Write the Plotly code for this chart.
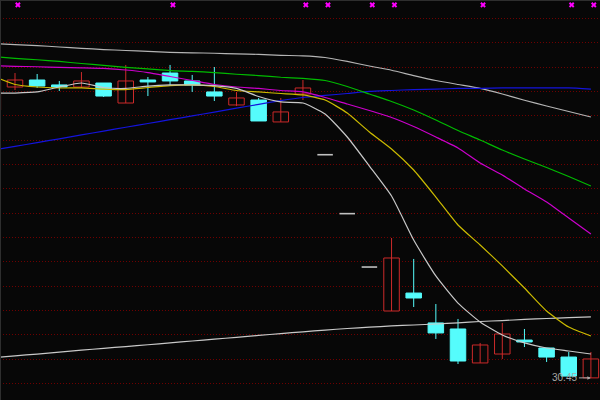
import plotly.graph_objects as go

# ---------------- data (prices) ----------------
idx = list(range(28))

open_ = [52.68, 54.59, 55.17, 54.76, 54.59, 54.92, 53.26, 55.17, 55.75, 55.09,
         54.18, 53.10, 53.51, 51.69, 54.01, 48.97, 44.08, 39.65, 36.00, 37.49,
         35.01, 34.51, 31.69, 32.43, 33.59, 32.93, 32.18, 30.45]
high = [55.17, 55.75, 55.67, 55.09, 55.83, 54.92, 56.42, 55.42, 56.42, 55.59,
        56.25, 54.18, 53.68, 53.68, 55.17, 48.97, 44.08, 39.65, 42.06, 40.32,
        36.58, 35.34, 33.35, 35.01, 34.51, 32.93, 32.60, 32.60]
low = [52.52, 54.34, 54.51, 54.26, 54.51, 53.76, 53.26, 53.84, 54.67, 54.18,
       53.43, 53.01, 51.77, 51.69, 53.51, 48.97, 44.08, 39.65, 36.00, 36.33,
       33.68, 31.60, 31.69, 32.02, 33.01, 31.77, 30.60, 30.45]
close = [55.01, 55.17, 54.67, 54.59, 55.09, 53.84, 55.09, 55.01, 55.09, 54.76,
         53.84, 53.68, 51.77, 52.52, 54.51, 48.97, 44.08, 39.65, 40.40, 37.08,
         34.18, 31.85, 33.18, 34.09, 33.43, 32.18, 30.60, 32.02]

ma_top_gray = [58.20, 58.10, 58.03, 57.91, 57.80, 57.70, 57.62, 57.55, 57.47, 57.43,
               57.39, 57.34, 57.30, 57.22, 57.18, 57.04, 56.71, 56.33, 55.98, 55.54,
               55.13, 54.80, 54.48, 54.01, 53.49, 53.01, 52.56, 52.10]
ma_green = [57.12, 56.97, 56.85, 56.71, 56.54, 56.39, 56.22, 56.09, 55.95, 55.89,
            55.79, 55.65, 55.54, 55.40, 55.30, 55.13, 54.63, 54.01, 53.39, 52.68,
            51.85, 50.98, 50.19, 49.36, 48.61, 47.91, 47.16, 46.37]
ma_magenta = [56.36, 56.31, 56.27, 56.22, 56.18, 56.13, 56.00, 55.79, 55.46, 55.13,
              54.80, 54.59, 54.47, 54.30, 54.18, 53.72, 53.18, 52.64, 52.06, 51.31,
              50.44, 49.53, 48.28, 47.29, 46.13, 45.05, 43.72, 42.39]
ma_yellow = [55.50, 54.80, 54.59, 54.51, 54.51, 54.42, 54.38, 54.55, 54.71, 54.76,
             54.63, 54.30, 54.18, 54.05, 53.93, 53.51, 52.43, 50.86, 49.45, 47.70,
             45.46, 43.14, 41.48, 39.74, 37.91, 36.00, 34.67, 33.93]
ma_white5 = [54.09, 54.09, 54.18, 54.59, 54.92, 54.55, 54.47, 54.67, 54.76, 54.76,
             54.71, 54.47, 53.80, 53.35, 53.26, 52.35, 50.44, 48.03, 45.54, 41.89,
             38.91, 36.66, 35.09, 34.01, 33.35, 32.93, 32.68, 32.43]
ma_blue = [49.35, 49.66, 49.98, 50.29, 50.61, 50.93, 51.25, 51.56, 51.88, 52.19,
           52.51, 52.83, 53.15, 53.46, 53.72, 53.89, 54.05, 54.22, 54.30, 54.38,
           54.42, 54.47, 54.48, 54.51, 54.51, 54.52, 54.51, 54.42]
ma_bottom = [32.13, 32.28, 32.43, 32.59, 32.75, 32.90, 33.05, 33.20, 33.36, 33.51,
             33.66, 33.82, 33.97, 34.13, 34.27, 34.42, 34.55, 34.66, 34.76, 34.84,
             34.92, 35.02, 35.13, 35.21, 35.30, 35.38, 35.45, 35.52]

signal_idx = [1, 8, 14, 15, 17, 18, 22, 26, 27]
signal_level = 61.40
low_label = "30.45"

# ---------------- styles ----------------
BG = "#070707"
RED = "#cc2a2a"
CYAN = "#55fcfc"
FLAT = "#c0c0c0"
BODY_W = 0.7

up = [i for i in idx if close[i] > open_[i]]
down = [i for i in idx if close[i] < open_[i]]
flat = [i for i in idx if close[i] == open_[i]]

def wicks(ids):
    xs, ys = [], []
    for i in ids:
        xs += [i, i, None]
        ys += [low[i], high[i], None]
    return xs, ys

fig = go.Figure()

wx, wy = wicks(up)
fig.add_trace(go.Scatter(x=wx, y=wy, mode="lines", line=dict(color=RED, width=1), hoverinfo="skip"))
wx, wy = wicks(down)
fig.add_trace(go.Scatter(x=wx, y=wy, mode="lines", line=dict(color=CYAN, width=1), hoverinfo="skip"))

fig.add_trace(go.Bar(x=up, y=[close[i] - open_[i] for i in up], base=[open_[i] for i in up],
                     width=BODY_W, marker=dict(color=BG, line=dict(color=RED, width=1)), hoverinfo="skip"))
fig.add_trace(go.Bar(x=down, y=[open_[i] - close[i] for i in down], base=[close[i] for i in down],
                     width=BODY_W, marker=dict(color=CYAN, line=dict(color=CYAN, width=1)), hoverinfo="skip"))

fx, fy = [], []
for i in flat:
    fx += [i - BODY_W / 2, i + BODY_W / 2, None]
    fy += [close[i], close[i], None]
fig.add_trace(go.Scatter(x=fx, y=fy, mode="lines", line=dict(color=FLAT, width=1.6), hoverinfo="skip"))

lines = [
    (ma_bottom, "#c8c8c8"),
    (ma_top_gray, "#b4b4b4"),
    (ma_blue, "#1414dc"),
    (ma_green, "#00bb00"),
    (ma_magenta, "#cc00cc"),
    (ma_yellow, "#ccbb00"),
    (ma_white5, "#c8c8c8"),
]
for vals, col in lines:
    fig.add_trace(go.Scatter(x=idx, y=vals, mode="lines",
                             line=dict(color=col, width=1.2, shape="spline", smoothing=0.5),
                             hoverinfo="skip"))

fig.add_trace(go.Scatter(x=[i + 0.13 for i in signal_idx], y=[signal_level] * len(signal_idx),
                         mode="markers", marker=dict(symbol="x", size=5, color="#ff00ff", line=dict(width=0)),
                         hoverinfo="skip"))

fig.add_annotation(x=idx[-1], y=min(low), text=low_label, showarrow=True, ax=-12, ay=0,
                   xanchor="right", yanchor="middle", arrowhead=2, arrowsize=0.7, arrowwidth=1,
                   arrowcolor="#a8a8a8", standoff=0, startstandoff=0,
                   font=dict(family="Liberation Sans Narrow, Liberation Sans, Arial", size=10, color="#a8a8a8"))

# faint frame on the top and left edges only
fig.add_shape(type="line", xref="paper", yref="paper", x0=0, x1=1, y0=1, y1=1,
              line=dict(color="#2e2e2e", width=2), layer="above")
fig.add_shape(type="line", xref="paper", yref="paper", x0=0, x1=0, y0=0, y1=1,
              line=dict(color="#2e2e2e", width=2), layer="above")

fig.update_layout(
    width=600, height=400, margin=dict(l=0, r=0, t=0, b=0),
    paper_bgcolor=BG, plot_bgcolor=BG, showlegend=False, barmode="overlay",
    hovermode=False,
    xaxis=dict(range=[0.323, 27.411], showgrid=False, zeroline=False, showticklabels=False,
               ticks="", showline=False, fixedrange=True),
    yaxis=dict(range=[28.615, 61.81], tickmode="linear", tick0=60.29, dtick=2.0207,
               showgrid=True, gridcolor="#6e0000", griddash="1px,2px", gridwidth=1,
               zeroline=False, showticklabels=False, ticks="", showline=False, fixedrange=True),
)

fig.write_html("out.html", config={"displayModeBar": False})
